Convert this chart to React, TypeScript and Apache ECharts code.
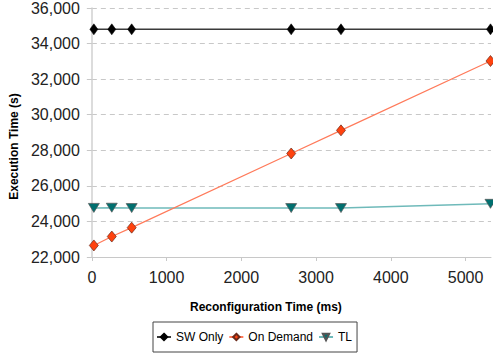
import React, { useEffect, useRef } from "react";
import * as echarts from "echarts";

const reconfigTimes = [27, 267, 533, 2667, 3333, 5333];
const swOnly = [34800, 34800, 34800, 34800, 34800, 34800];
const onDemand = [22650, 23150, 23650, 27820, 29120, 33020];
const tl = [24760, 24770, 24750, 24750, 24750, 24990];
const yTicks = { min: 22000, max: 36000, interval: 2000 };
const xTicks = { min: 0, max: 5340, interval: 1000 };

const font = "'Liberation Sans', Arial, sans-serif";

export default function App() {
  const ref = useRef<HTMLDivElement>(null);
  useEffect(() => {
    if (!ref.current) return;
    const chart = echarts.init(ref.current, undefined, { renderer: "svg" });
    const pts = (ys: number[]) => reconfigTimes.map((x, i) => [x, ys[i]]);
    chart.setOption({
      animation: false,
      grid: { left: 90, right: 2, top: 7, bottom: 101, containLabel: false },
      legend: {
        bottom: 6,
        left: 153,
        orient: "horizontal",
        itemWidth: 14,
        itemHeight: 8,
        itemGap: 5,
        padding: [9, 5, 9, 3],
        borderColor: "#444",
        borderWidth: 1,
        textStyle: { fontFamily: font, fontSize: 12, color: "#000" },
        data: ["SW Only", "On Demand", "TL"],
      },
      xAxis: {
        type: "value",
        min: xTicks.min,
        max: xTicks.max,
        interval: xTicks.interval,
        name: "Reconfiguration Time (ms)",
        nameLocation: "middle",
        nameGap: 44,
        nameTextStyle: {
          fontFamily: font,
          fontSize: 12,
          fontWeight: "bold",
          color: "#000",
          padding: [0, 51, 0, 0],
        },
        axisLine: { show: true, lineStyle: { color: "#c8c8c8", width: 1 } },
        axisTick: { show: true, length: 4, lineStyle: { color: "#c8c8c8" } },
        axisLabel: {
          fontFamily: font,
          fontSize: 16,
          color: "#222",
          margin: 12,
          showMaxLabel: false,
          formatter: (v: number) => String(v),
        },
        splitLine: { show: false },
      },
      yAxis: {
        type: "value",
        min: yTicks.min,
        max: yTicks.max,
        interval: yTicks.interval,
        name: "Execution Time (s)",
        nameLocation: "middle",
        nameGap: 70,
        nameTextStyle: {
          fontFamily: font,
          fontSize: 12,
          fontWeight: "bold",
          color: "#000",
          padding: [0, 28, 0, 0],
        },
        axisLine: { show: true, lineStyle: { color: "#d0d0d0", width: 1.5 } },
        axisTick: { show: true, length: 5, lineStyle: { color: "#c8c8c8" } },
        axisLabel: {
          fontFamily: font,
          fontSize: 16,
          color: "#222",
          margin: 12,
          padding: [4, 0, 0, 0],
          formatter: (v: number) => v.toLocaleString("en-US"),
        },
        splitLine: {
          show: true,
          lineStyle: { color: "#c8c8c8", type: [5, 4], width: 1 },
        },
      },
      series: [
        {
          name: "SW Only",
          type: "line",
          data: pts(swOnly),
          clip: false,
          symbol: "diamond",
          symbolSize: [8, 11],
          lineStyle: { color: "#3a3a3a", width: 1.5 },
          itemStyle: { color: "#000", borderColor: "#000", borderWidth: 0.5 },
          z: 3,
        },
        {
          name: "On Demand",
          type: "line",
          data: pts(onDemand),
          clip: false,
          symbol: "diamond",
          symbolSize: [9, 11],
          lineStyle: { color: "#ff7a5a", width: 1.2 },
          itemStyle: { color: "#ff420e", borderColor: "#6a2a1a", borderWidth: 0.7 },
          z: 4,
        },
        {
          name: "TL",
          type: "line",
          data: pts(tl),
          clip: false,
          symbol: "triangle",
          symbolRotate: 180,
          symbolSize: [11, 9],
          lineStyle: { color: "#6fbaba", width: 1.5 },
          itemStyle: { color: "#007070", borderColor: "#555", borderWidth: 0.7 },
          z: 2,
        },
      ],
    });
    return () => chart.dispose();
  }, []);
  return (
    <div
      ref={ref}
      style={{ position: "absolute", left: 0, top: 0, width: 493, height: 358 }}
    />
  );
}
